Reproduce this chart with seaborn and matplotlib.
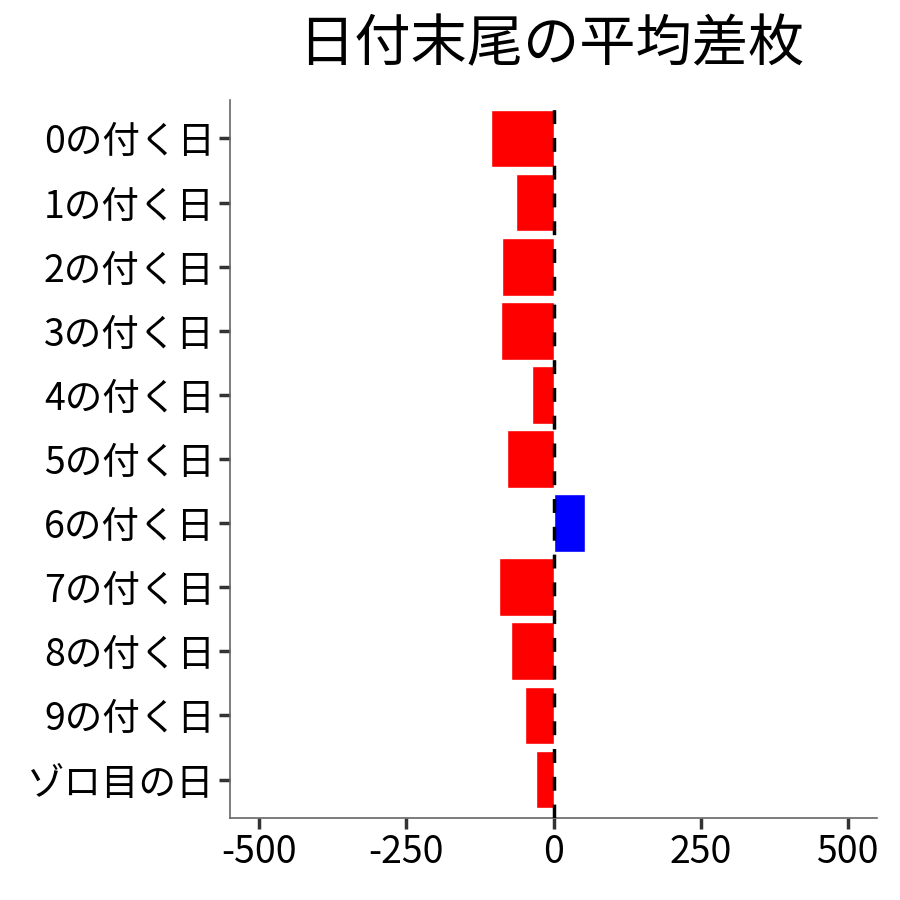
import pandas as pd
import numpy as np
import matplotlib
matplotlib.use('Agg')
import matplotlib.pyplot as plt
import seaborn as sns

# data
labels = ['0の付く日', '1の付く日', '2の付く日', '3の付く日', '4の付く日', '5の付く日',
          '6の付く日', '7の付く日', '8の付く日', '9の付く日', 'ゾロ目の日']
diff = [-106, -64, -87, -89, -36, -79, 53, -92, -72, -48, -30]
xticks = [-500, -250, 0, 250, 500]

df = pd.DataFrame({'day': labels, 'diff': diff})
df['sign'] = np.where(df['diff'] >= 0, 'plus', 'minus')

sns.set_style('white')
plt.rcParams['font.family'] = ['Noto Sans CJK JP', 'DejaVu Sans']

fig = plt.figure(figsize=(9, 9), dpi=100)
ax = fig.add_axes([0.2556, 0.0911, 0.7189, 0.7978])

sns.barplot(data=df, x='diff', y='day', hue='sign', order=labels,
            palette={'minus': '#FF0000', 'plus': '#0000FF'},
            orient='h', width=0.9, dodge=False, legend=False,
            saturation=1, ax=ax)

ax.axvline(0, color='black', linestyle=(0, (4, 4)), linewidth=2.5, zorder=5)

ax.set_xlim(-550, 550)
ax.set_ylim(len(labels) - 0.4, -0.6)
ax.set_xticks(xticks)
ax.set_xticklabels([str(t) for t in xticks])
ax.set_xlabel('')
ax.set_ylabel('')
ax.tick_params(axis='both', bottom=True, left=True, labelsize=27,
               colors='#333333', length=8, width=2.5,
               labelcolor='black', pad=3)

for side in ['top', 'right']:
    ax.spines[side].set_visible(False)
for side in ['left', 'bottom']:
    ax.spines[side].set_color('#666666')
    ax.spines[side].set_linewidth(1.2)

fig.text(0.613, 0.95, '日付末尾の平均差枚', fontsize=40.5, color='black',
         ha='center', va='center')

plt.savefig('out.png', dpi=100)
